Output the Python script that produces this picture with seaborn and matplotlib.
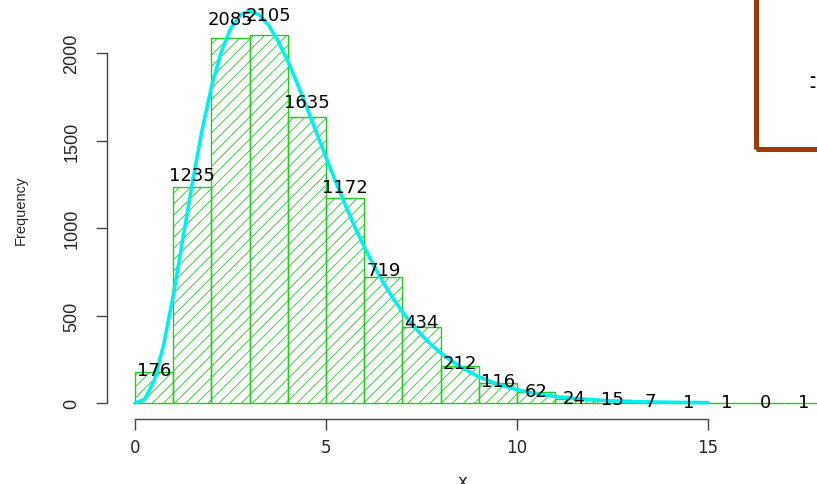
import numpy as np
import pandas as pd
import seaborn as sns
import matplotlib.pyplot as plt
from matplotlib.patches import Rectangle

# ---- data ----
bin_edges = list(range(0, 19))
counts = [176, 1235, 2085, 2105, 1635, 1172, 719, 434, 212, 116, 62, 24, 15, 7, 1, 1, 0, 1]
curve_x = [0, 0.25, 0.5, 0.75, 1, 1.25, 1.5, 1.75, 2, 2.25, 2.5, 2.75, 3, 3.25, 3.5, 3.75,
           4, 4.25, 4.5, 4.75, 5, 5.25, 5.5, 5.75, 6, 6.25, 6.5, 6.75, 7, 7.25, 7.5, 7.75,
           8, 8.5, 9, 9.5, 10, 10.5, 11, 11.5, 12, 12.5, 13, 13.5, 14, 14.5, 15]
curve_y = [0, 20, 126, 332, 613, 933, 1255, 1552, 1804, 2001, 2138, 2216, 2240, 2218, 2158, 2067,
           1954, 1825, 1687, 1545, 1404, 1266, 1133, 1008, 892, 786, 688, 600, 521, 451, 389, 334,
           286, 208, 150, 107, 76, 53, 37, 26, 18, 12, 8, 6, 4, 3, 2]
x_ticks = [0, 5, 10, 15]
y_ticks = [0, 500, 1000, 1500, 2000]

sns.set_theme(style="white")
plt.rcParams['font.family'] = ['Liberation Sans', 'DejaVu Sans']
plt.rcParams['hatch.linewidth'] = 0.6

W, H = 817, 485
fig = plt.figure(figsize=(W / 100, H / 100), dpi=100)
ax = fig.add_axes([107 / W, 65 / H, (W - 107) / W, (H - 65) / H])

green = '#22cc22'
centers = [(bin_edges[i] + bin_edges[i + 1]) / 2 for i in range(len(counts))]
df = pd.DataFrame({'x': centers, 'w': counts})
sns.histplot(data=df, x='x', weights='w', bins=bin_edges, ax=ax,
             fill=True, color=green, alpha=1, linewidth=1.0)
for p in ax.patches:
    p.set_facecolor('none')
    p.set_edgecolor(green)
    p.set_hatch('///')

sns.lineplot(x=curve_x, y=curve_y, ax=ax, color='#00f0f0', linewidth=2.6)

for c, v in zip(centers, counts):
    ax.text(c, v * 1.05 + 5, str(v), ha='center', va='center', fontsize=13,
            family='DejaVu Sans', color='black')

# axis geometry (R style detached axes)
px_per_x = 38.2
xmin = -28 / px_per_x
xmax = (W - 135) / px_per_x
ax.set_xlim(xmin, xmax)
py = 0.175
ymin = -16 / py
ymax = (H - 65 - 16) / py
ax.set_ylim(ymin, ymax)

for s in ['top', 'right']:
    ax.spines[s].set_visible(False)
for s in ['left', 'bottom']:
    ax.spines[s].set_color('#444444')
    ax.spines[s].set_linewidth(1.0)
ax.spines['left'].set_bounds(0, 2000)
ax.spines['bottom'].set_bounds(0, 15)

ax.set_xticks(x_ticks)
ax.set_yticks(y_ticks)
ax.tick_params(axis='both', direction='out', length=8, width=1.0, color='#444444',
               bottom=True, left=True)
ax.set_xticklabels([str(t) for t in x_ticks], family='DejaVu Sans', fontsize=12)
ax.set_yticklabels([str(t) for t in y_ticks], rotation=90, va='center',
                   family='Liberation Sans', fontsize=13)
ax.tick_params(axis='y', pad=11)
ax.tick_params(axis='x', pad=6)
ax.set_ylabel('Frequency', fontsize=10.5, family='Liberation Sans', labelpad=26)
ax.set_xlabel('x', fontsize=12, family='DejaVu Sans', labelpad=11)
ax.grid(False)

# partially visible legend box at top right
fig.patches.append(Rectangle((756 / W, 1 - 150 / H), 100 / W, 200 / H,
                             transform=fig.transFigure, fill=False,
                             edgecolor='#9e3a05', linewidth=3.6))
fig.text(809 / W, 1 - 77 / H, '-', fontsize=13, fontweight='bold', ha='left', va='center', color='black')
fig.text(809 / W, 1 - 87 / H, '-', fontsize=13, fontweight='bold', ha='left', va='center', color='black')

fig.savefig('out.png', dpi=100)
